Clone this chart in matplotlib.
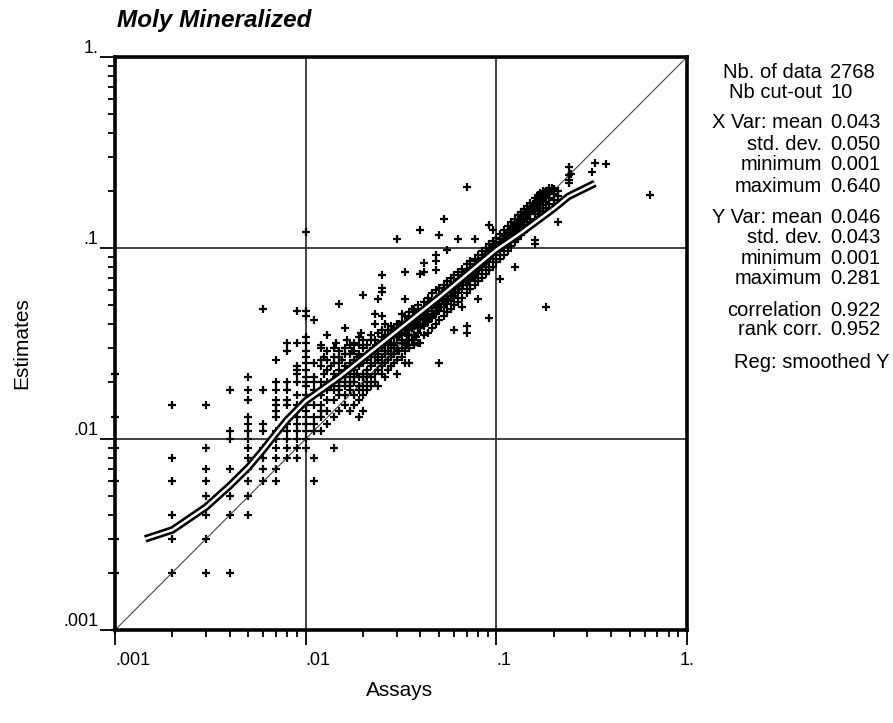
import matplotlib
matplotlib.use('Agg')
import matplotlib.pyplot as plt
from matplotlib.ticker import LogLocator, NullFormatter

plt.rcParams['font.family'] = ['Liberation Sans', 'DejaVu Sans']

# ---------------- data ----------------
# low-grade assays: quantized columns -> estimates
col_assay = [0.001, 0.002, 0.003, 0.004, 0.005, 0.006, 0.007, 0.008, 0.009, 0.010]
col_estimates = [
    [0.001, 0.002, 0.003, 0.006, 0.009, 0.013, 0.022],
    [0.002, 0.003, 0.004, 0.006, 0.008, 0.015],
    [0.002, 0.003, 0.004, 0.005, 0.006, 0.007, 0.009, 0.015],
    [0.002, 0.004, 0.005, 0.007, 0.010, 0.011, 0.018],
    [0.004, 0.005, 0.006, 0.007, 0.008, 0.009, 0.010, 0.011, 0.012, 0.013, 0.016, 0.018, 0.021],
    [0.006, 0.007, 0.008, 0.009, 0.011, 0.012, 0.018, 0.048],
    [0.006, 0.007, 0.008, 0.009, 0.010, 0.011, 0.013, 0.014, 0.015, 0.016, 0.018, 0.020, 0.026],
    [0.008, 0.009, 0.010, 0.011, 0.012, 0.015, 0.016, 0.018, 0.020, 0.029, 0.032],
    [0.008, 0.009, 0.010, 0.011, 0.012, 0.013, 0.015, 0.017, 0.020, 0.022, 0.023, 0.024, 0.032, 0.047],
    [0.009, 0.010, 0.011, 0.012, 0.013, 0.014, 0.015, 0.016, 0.017, 0.019, 0.020, 0.021, 0.023,
     0.025, 0.027, 0.029, 0.032, 0.034, 0.044, 0.047, 0.121],
]

# mid-range assays, by column
mid_assay = [0.011, 0.012, 0.013, 0.014, 0.015, 0.016, 0.017, 0.018, 0.019, 0.020,
             0.021, 0.022, 0.023, 0.024, 0.025, 0.026, 0.027, 0.028, 0.029, 0.030,
             0.032, 0.033, 0.035, 0.037, 0.039, 0.040, 0.042, 0.044, 0.046, 0.048,
             0.050, 0.053, 0.055, 0.058, 0.060, 0.063, 0.066, 0.070, 0.073, 0.077,
             0.080, 0.084, 0.088, 0.092, 0.096, 0.100, 0.105, 0.110, 0.115, 0.120,
             0.125, 0.130, 0.135, 0.140, 0.145, 0.150, 0.159, 0.165, 0.170, 0.175,
             0.182, 0.190, 0.200, 0.210]
mid_estimates = [
    [0.006, 0.008, 0.011, 0.012, 0.013, 0.015, 0.017, 0.018, 0.020, 0.021, 0.025, 0.042],
    [0.011, 0.013, 0.014, 0.015, 0.017, 0.020, 0.024, 0.026, 0.030, 0.031],
    [0.012, 0.014, 0.016, 0.018, 0.020, 0.023, 0.026, 0.035],
    [0.009, 0.013, 0.016, 0.018, 0.020, 0.022, 0.025, 0.030],
    [0.014, 0.017, 0.018, 0.020, 0.023, 0.025, 0.027, 0.029, 0.051],
    [0.015, 0.017, 0.019, 0.021, 0.024, 0.028, 0.038],
    [0.014, 0.018, 0.019, 0.022, 0.025, 0.028, 0.031],
    [0.015, 0.017, 0.020, 0.021, 0.023, 0.026, 0.029],
    [0.013, 0.016, 0.018, 0.021, 0.024, 0.028, 0.031, 0.034],
    [0.014, 0.017, 0.019, 0.022, 0.025, 0.027, 0.030, 0.057],
    [0.018, 0.020, 0.023, 0.026, 0.031],
    [0.019, 0.021, 0.024, 0.027, 0.029, 0.033],
    [0.020, 0.022, 0.025, 0.028, 0.040, 0.045],
    [0.019, 0.023, 0.026, 0.029, 0.032, 0.054],
    [0.022, 0.024, 0.027, 0.030, 0.034, 0.037, 0.044, 0.059, 0.062, 0.072],
    [0.021, 0.025, 0.028, 0.031, 0.035],
    [0.023, 0.026, 0.029, 0.033, 0.037],
    [0.024, 0.027, 0.030, 0.032, 0.035, 0.039],
    [0.025, 0.028, 0.031, 0.034, 0.038],
    [0.022, 0.026, 0.029, 0.032, 0.036, 0.040, 0.111],
    [0.027, 0.030, 0.033, 0.037, 0.041, 0.045],
    [0.025, 0.029, 0.032, 0.036, 0.044, 0.054, 0.075],
    [0.025, 0.030, 0.033, 0.037, 0.040, 0.046],
    [0.031, 0.035, 0.039, 0.042, 0.048],
    [0.032, 0.036, 0.040, 0.044, 0.050],
    [0.032, 0.038, 0.042, 0.046, 0.073, 0.124],
    [0.035, 0.039, 0.043, 0.048, 0.052, 0.075, 0.083],
    [0.036, 0.041, 0.045, 0.050, 0.055],
    [0.038, 0.043, 0.047, 0.052, 0.058],
    [0.040, 0.045, 0.049, 0.054, 0.060, 0.077, 0.085, 0.092],
    [0.025, 0.042, 0.047, 0.051, 0.056, 0.062, 0.117],
    [0.044, 0.049, 0.054, 0.059, 0.064, 0.142],
    [0.046, 0.051, 0.056, 0.061, 0.067, 0.098],
    [0.048, 0.053, 0.058, 0.064, 0.070],
    [0.037, 0.050, 0.055, 0.061, 0.066, 0.072],
    [0.052, 0.058, 0.063, 0.069, 0.075, 0.111],
    [0.049, 0.055, 0.061, 0.066, 0.072, 0.078],
    [0.036, 0.039, 0.058, 0.064, 0.070, 0.076, 0.082, 0.208],
    [0.061, 0.067, 0.073, 0.079, 0.085],
    [0.064, 0.070, 0.076, 0.082, 0.088, 0.111],
    [0.054, 0.067, 0.073, 0.079, 0.085, 0.092],
    [0.070, 0.077, 0.083, 0.089, 0.096],
    [0.073, 0.080, 0.087, 0.093, 0.100],
    [0.043, 0.077, 0.084, 0.091, 0.098, 0.105, 0.132],
    [0.080, 0.088, 0.095, 0.102, 0.109, 0.124],
    [0.084, 0.092, 0.099, 0.106, 0.113],
    [0.069, 0.088, 0.096, 0.104, 0.111, 0.119],
    [0.092, 0.101, 0.109, 0.116, 0.124],
    [0.097, 0.106, 0.114, 0.122, 0.130],
    [0.102, 0.111, 0.119, 0.128, 0.136],
    [0.080, 0.107, 0.116, 0.125, 0.134, 0.142],
    [0.112, 0.121, 0.130, 0.139, 0.148],
    [0.117, 0.127, 0.136, 0.145, 0.154],
    [0.122, 0.132, 0.141, 0.151, 0.160],
    [0.126, 0.137, 0.147, 0.157, 0.166],
    [0.131, 0.142, 0.152, 0.162, 0.172],
    [0.105, 0.110, 0.150, 0.161, 0.172, 0.182],
    [0.146, 0.157, 0.168, 0.179, 0.190],
    [0.150, 0.162, 0.173, 0.184, 0.195],
    [0.156, 0.168, 0.180, 0.191, 0.200],
    [0.049, 0.162, 0.175, 0.187, 0.198],
    [0.170, 0.182, 0.194, 0.205],
    [0.178, 0.191, 0.203],
    [0.137, 0.188, 0.200],
]

# extra points filling the dense part of the cloud
dense_assay = [0.0125, 0.0125, 0.013, 0.0135, 0.0135, 0.014, 0.0145, 0.0145, 0.015, 0.0155,
               0.0155, 0.016, 0.016, 0.0165, 0.0165, 0.017, 0.0175, 0.0175, 0.018, 0.0185,
               0.0185, 0.019, 0.0195, 0.0195, 0.020, 0.020,
               0.021, 0.021, 0.022, 0.022, 0.0225, 0.023, 0.023, 0.024, 0.024, 0.025,
               0.025, 0.026, 0.026, 0.026, 0.027, 0.027, 0.028, 0.028, 0.029, 0.029,
               0.030, 0.030, 0.031, 0.031, 0.031, 0.032, 0.033, 0.034, 0.034, 0.034,
               0.035, 0.036, 0.036, 0.036, 0.038, 0.038, 0.038, 0.039,
               0.041, 0.041, 0.043, 0.043, 0.045, 0.045, 0.047, 0.047, 0.049, 0.049,
               0.051, 0.052, 0.052, 0.054, 0.056, 0.056, 0.057, 0.059, 0.061, 0.062,
               0.064, 0.065, 0.067, 0.068, 0.069, 0.071, 0.072, 0.074, 0.075, 0.076,
               0.078, 0.079, 0.081, 0.082, 0.083, 0.085, 0.086, 0.087, 0.089, 0.090,
               0.091, 0.093, 0.094, 0.095, 0.097, 0.098, 0.099,
               0.102, 0.104, 0.107, 0.108, 0.112, 0.113, 0.117, 0.118, 0.122, 0.123,
               0.127, 0.128, 0.132, 0.133, 0.137, 0.138, 0.142, 0.143, 0.147, 0.148,
               0.152, 0.155, 0.157, 0.160, 0.162, 0.167, 0.168, 0.172, 0.173, 0.177,
               0.178, 0.180, 0.185, 0.186, 0.188, 0.195, 0.195]
dense_estimates = [0.022, 0.027, 0.029, 0.019, 0.024, 0.027, 0.021, 0.032, 0.019, 0.022,
                   0.026, 0.030, 0.020, 0.023, 0.033, 0.020, 0.024, 0.029, 0.032, 0.022,
                   0.027, 0.019, 0.025, 0.036, 0.021, 0.033,
                   0.022, 0.028, 0.025, 0.035, 0.030, 0.027, 0.033, 0.028, 0.036, 0.025,
                   0.032, 0.029, 0.033, 0.040, 0.031, 0.035, 0.028, 0.037, 0.030, 0.036,
                   0.034, 0.038, 0.029, 0.035, 0.040, 0.032, 0.038, 0.031, 0.035, 0.041,
                   0.043, 0.033, 0.038, 0.048, 0.034, 0.041, 0.045, 0.038,
                   0.040, 0.044, 0.041, 0.047, 0.043, 0.052, 0.045, 0.050, 0.047, 0.053,
                   0.049, 0.053, 0.058, 0.052, 0.054, 0.060, 0.063, 0.056, 0.059, 0.065,
                   0.061, 0.068, 0.064, 0.070, 0.067, 0.072, 0.068, 0.075, 0.071, 0.079,
                   0.074, 0.081, 0.077, 0.084, 0.080, 0.088, 0.083, 0.091, 0.086, 0.093,
                   0.089, 0.097, 0.092, 0.100, 0.096, 0.103, 0.099,
                   0.100, 0.108, 0.104, 0.112, 0.110, 0.118, 0.116, 0.124, 0.121, 0.129,
                   0.126, 0.133, 0.131, 0.140, 0.136, 0.146, 0.142, 0.152, 0.150, 0.158,
                   0.156, 0.165, 0.160, 0.170, 0.176, 0.172, 0.183, 0.180, 0.190, 0.186,
                   0.196, 0.192, 0.190, 0.200, 0.196, 0.198, 0.207]

# high assays (sparse)
high_assay = [0.240, 0.240, 0.240, 0.240, 0.245, 0.318, 0.330, 0.375, 0.640]
high_estimates = [0.220, 0.228, 0.240, 0.266, 0.244, 0.249, 0.280, 0.274, 0.190]

# smoothed regression curve
smooth_x = [0.00144, 0.0020, 0.0030, 0.0040, 0.0050, 0.0060, 0.0070, 0.0080, 0.0100,
            0.0151, 0.0506, 0.100, 0.133, 0.200, 0.2385, 0.329]
smooth_y = [0.0030, 0.00334, 0.0044, 0.0057, 0.0071, 0.0088, 0.0107, 0.0126, 0.0158,
            0.0212, 0.0556, 0.098, 0.119, 0.161, 0.186, 0.218]

tick_values = [0.001, 0.01, 0.1, 1.0]
tick_labels = ['.001', '.01', '.1', '1.']

stat_labels = ['Nb. of data', 'Nb cut-out', 'X Var: mean', 'std. dev.', 'minimum', 'maximum',
               'Y Var: mean', 'std. dev.', 'minimum', 'maximum', 'correlation', 'rank corr.']
stat_values = ['2768', '10', '0.043', '0.050', '0.001', '0.640',
               '0.046', '0.043', '0.001', '0.281', '0.922', '0.952']
reg_text = 'Reg: smoothed Y'

# ---------------- assemble ----------------
xs, ys = [], []
for a, ests in zip(col_assay, col_estimates):
    xs += [a] * len(ests)
    ys += ests
for a, ests in zip(mid_assay, mid_estimates):
    xs += [a] * len(ests)
    ys += ests
xs += dense_assay
ys += dense_estimates
xs += high_assay
ys += high_estimates

W, H = 893, 723
fig = plt.figure(figsize=(W / 100, H / 100), dpi=100)
ax = fig.add_axes([115 / W, (H - 630) / H, 572 / W, 573 / H])
ax.set_xscale('log')
ax.set_yscale('log')
ax.set_xlim(tick_values[0], tick_values[-1])
ax.set_ylim(tick_values[0], tick_values[-1])

for v in tick_values[1:-1]:
    ax.axvline(v, color='#333333', lw=1.3, zorder=1)
    ax.axhline(v, color='#333333', lw=1.3, zorder=1)
ax.plot(tick_values, tick_values, color='#444444', lw=0.8, zorder=2)

ax.plot(xs, ys, ls='none', marker='+', ms=6.2, mew=1.6, color='black', zorder=3, clip_on=False)

ax.plot(smooth_x, smooth_y, color='black', lw=5.5, solid_capstyle='butt', solid_joinstyle='round', zorder=4)
ax.plot(smooth_x, smooth_y, color='white', lw=1.8, solid_capstyle='butt', solid_joinstyle='round', zorder=5)

for s in ax.spines.values():
    s.set_linewidth(2.6)
    s.set_zorder(6)

ax.set_xticks(tick_values)
ax.set_yticks(tick_values)
ax.xaxis.set_minor_locator(LogLocator(base=10, subs=range(2, 10)))
ax.yaxis.set_minor_locator(LogLocator(base=10, subs=range(2, 10)))
ax.xaxis.set_minor_formatter(NullFormatter())
ax.yaxis.set_minor_formatter(NullFormatter())
ax.set_xticklabels(tick_labels)
ax.set_yticklabels(tick_labels)
ax.tick_params(which='major', direction='out', length=11, width=1.3, labelsize=13)
ax.tick_params(which='minor', direction='out', length=5, width=1.3)
ax.tick_params(axis='x', which='major', pad=5)
ax.tick_params(axis='y', which='major', pad=1)
for lab in ax.get_yticklabels():
    lab.set_va('bottom')
xl = ax.get_xticklabels()
for lab in xl[:-1]:
    lab.set_ha('left')
xl[-1].set_ha('center')

fig.text(117 / W, 1 - 20 / H, 'Moly Mineralized', fontsize=17.5, fontweight='bold',
         style='italic', va='center', ha='left')
fig.text(400 / W, 1 - 690 / H, 'Assays', fontsize=15, ha='center', va='center')
fig.text(22 / W, 1 - 343 / H, 'Estimates', fontsize=15, ha='center', va='center', rotation=90)

row_y = [72, 93, 123, 145, 165, 187, 217, 238, 258, 279, 310, 330]
for lab, val, yy in zip(stat_labels, stat_values, row_y):
    fig.text(822 / W, 1 - yy / H, lab, fontsize=14.5, ha='right', va='center')
    fig.text(830 / W, 1 - yy / H, val, fontsize=14.5, ha='left', va='center')
fig.text(890 / W, 1 - 362 / H, reg_text, fontsize=14.5, ha='right', va='center')

fig.savefig('out.png', dpi=100)
